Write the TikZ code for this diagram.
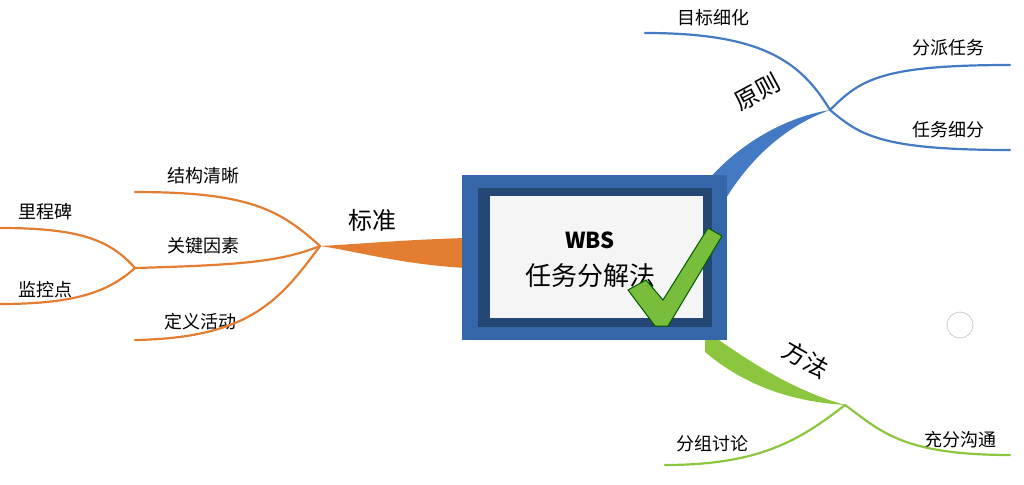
\documentclass[tikz,border=0pt]{standalone}
\usepackage{fontspec}
\setmainfont{Noto Sans CJK SC}
\definecolor{orbr}{RGB}{226,125,50}
\definecolor{blbr}{RGB}{68,122,196}
\definecolor{grbr}{RGB}{140,198,63}
\definecolor{frame}{RGB}{52,102,168}
\definecolor{tick}{RGB}{120,190,60}
\tikzset{
  lbl/.style={font=\fontsize{18}{20}\selectfont, inner sep=1pt},
  big/.style={font=\fontsize{24}{26}\selectfont, inner sep=1pt},
  twig/.style={line width=2.2pt, line cap=round},
}
\begin{document}
\begin{tikzpicture}[x=1pt,y=-1pt]
  \useasboundingbox (0,0) rectangle (1024,484);
  % hubs and ends
  \coordinate (hs) at (320,246);
  \coordinate (hk) at (135,268);
  \coordinate (hy) at (830,110);
  \coordinate (hf) at (845,405);
  % main branches
  \fill[orbr] (465,238) .. controls (400,240) and (360,244) .. (hs)
    .. controls (360,252) and (400,264) .. (465,268) -- cycle;
  \fill[blbr] (700,190) .. controls (730,150) and (780,118) .. (hy)
    .. controls (780,128) and (745,165) .. (722,205) -- cycle;
  \fill[grbr] (705,330) .. controls (760,370) and (800,392) .. (hf)
    .. controls (800,402) and (750,390) .. (705,352) -- cycle;
  % centre box
  \fill[frame] (462,175) rectangle (727,340);
  \fill[frame!70!black] (478,188) rectangle (712,327);
  \fill[gray!8] (490,196) rectangle (703,318);
  \node[font=\bfseries\fontsize{22}{24}\selectfont] (wbs) at (590,240) {WBS};
  \node[font=\fontsize{26}{28}\selectfont] (rw) at (590,276) {任务分解法};
  \fill[tick, draw=green!35!black, line width=1pt] (628,290) -- (646,280) -- (663,300)
    -- (708,228) -- (722,236) -- (668,326) -- (655,326) -- cycle;
  % labels of main branches
  \node[big] (bz) at (372,220) {标准};
  \node[big, rotate=28] (yz) at (757,92) {原则};
  \node[big, rotate=-30] (ff) at (806,360) {方法};
  % 标准
  \node[lbl] (jg) at (203,176) {结构清晰};
  \node[lbl] (gj) at (203,246) {关键因素};
  \node[lbl] (dy) at (200,322) {定义活动};
  \node[lbl] (lc) at (45,212) {里程碑};
  \node[lbl] (jk) at (45,290) {监控点};
  \draw[twig, orbr] (hs) .. controls (280,210) and (250,192) .. (135,192);
  \draw[twig, orbr] (hs) .. controls (280,262) and (240,265) .. (hk);
  \draw[twig, orbr] (hs) .. controls (280,300) and (250,338) .. (135,340);
  \draw[twig, orbr] (hk) .. controls (110,240) and (80,228) .. (0,228);
  \draw[twig, orbr] (hk) .. controls (110,290) and (80,304) .. (0,304);
  % 原则
  \node[lbl] (mb) at (713,18) {目标细化};
  \node[lbl] (fp) at (948,48) {分派任务};
  \node[lbl] (rx) at (948,130) {任务细分};
  \draw[twig, blbr] (hy) .. controls (800,60) and (760,33) .. (645,33);
  \draw[twig, blbr] (hy) .. controls (860,80) and (880,65) .. (1010,65);
  \draw[twig, blbr] (hy) .. controls (860,135) and (880,150) .. (1010,150);
  % 方法
  \node[lbl] (fz) at (712,444) {分组讨论};
  \node[lbl] (cf) at (960,440) {充分沟通};
  \draw[twig, grbr] (hf) .. controls (800,440) and (760,465) .. (665,465);
  \draw[twig, grbr] (hf) .. controls (880,430) and (900,455) .. (1010,455);
  % stray marker
  \draw[gray!40, line width=0.8pt] (960,325) circle[radius=13];
\end{tikzpicture}
\end{document}
